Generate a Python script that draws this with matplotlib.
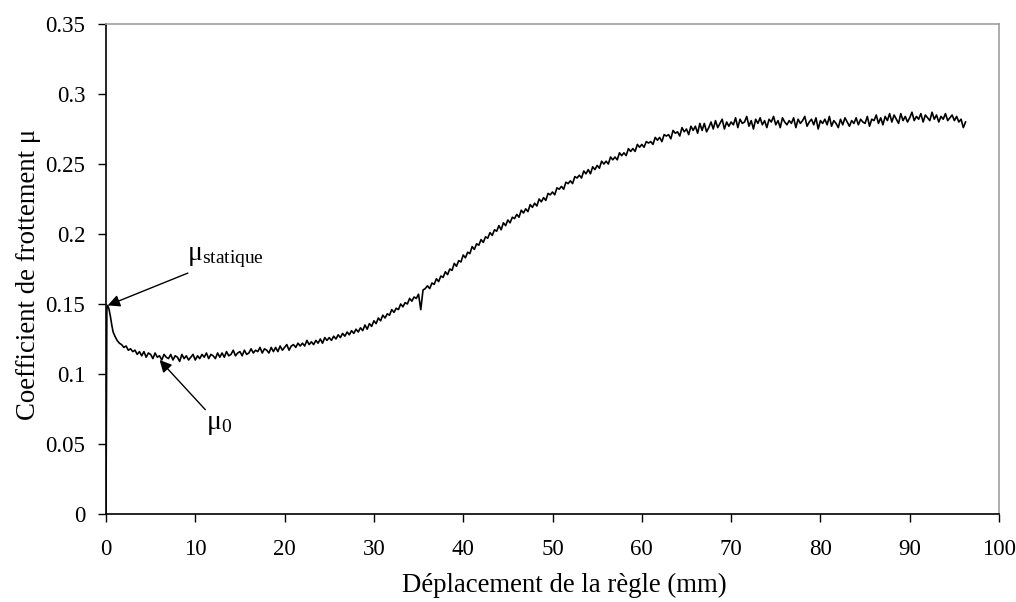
import numpy as np
import matplotlib
matplotlib.use("Agg")
from matplotlib import pyplot as plt

# ---- données ----
# début de l'essai (montée jusqu'au pic statique)
x_debut = [0.0, 0.1, 0.2, 0.35, 0.5, 0.65, 0.8]
mu_debut = [0.0, 0.147, 0.149, 0.146, 0.141, 0.135, 0.130]

# suite de l'essai, un point tous les 0.25 mm à partir de 1 mm
pas = 0.25
mu_suite = [
    0.127, 0.124, 0.122, 0.121,  # 1
    0.119, 0.120, 0.117, 0.118,
    0.116, 0.117, 0.114, 0.116,
    0.113, 0.116, 0.112, 0.115,
    0.114, 0.111, 0.115, 0.112,  # 5
    0.113, 0.110, 0.114, 0.112,
    0.111, 0.114, 0.110, 0.113,
    0.112, 0.109, 0.114, 0.111,
    0.113, 0.110, 0.112, 0.114,
    0.110, 0.113, 0.111, 0.114,  # 10
    0.112, 0.115, 0.111, 0.114,
    0.113, 0.111, 0.115, 0.112,
    0.115, 0.112, 0.116, 0.113,
    0.114, 0.117, 0.113, 0.115,
    0.116, 0.113, 0.117, 0.114,  # 15
    0.115, 0.118, 0.115, 0.117,
    0.116, 0.119, 0.115, 0.118,
    0.117, 0.115, 0.119, 0.116,
    0.119, 0.116, 0.120, 0.117,
    0.119, 0.121, 0.117, 0.120,  # 20
    0.121, 0.119, 0.122, 0.120,
    0.122, 0.120, 0.124, 0.121,
    0.123, 0.121, 0.124, 0.122,
    0.125, 0.122, 0.126, 0.124,
    0.126, 0.124, 0.127, 0.125,  # 25
    0.128, 0.126, 0.129, 0.127,
    0.130, 0.128, 0.131, 0.129,
    0.132, 0.130, 0.133, 0.131,
    0.135, 0.132, 0.136, 0.134,
    0.138, 0.136, 0.140, 0.138,  # 30
    0.142, 0.140, 0.143, 0.142,
    0.146, 0.144, 0.147, 0.146,
    0.150, 0.148, 0.151, 0.150,
    0.154, 0.152, 0.155, 0.154,
    0.157, 0.146, 0.160, 0.161,  # 35 (pic vers le bas)
    0.163, 0.161, 0.165, 0.164,
    0.168, 0.166, 0.170, 0.169,
    0.173, 0.171, 0.175, 0.174,
    0.179, 0.177, 0.181, 0.180,
    0.185, 0.183, 0.187, 0.186,  # 40
    0.191, 0.189, 0.193, 0.192,
    0.196, 0.194, 0.198, 0.197,
    0.201, 0.199, 0.203, 0.202,
    0.206, 0.203, 0.208, 0.206,
    0.210, 0.208, 0.212, 0.211,  # 45
    0.214, 0.212, 0.217, 0.215,
    0.218, 0.216, 0.221, 0.219,
    0.222, 0.220, 0.225, 0.223,
    0.226, 0.224, 0.229, 0.228,
    0.230, 0.228, 0.233, 0.232,  # 50
    0.234, 0.232, 0.237, 0.236,
    0.238, 0.236, 0.241, 0.240,
    0.242, 0.240, 0.245, 0.243,
    0.246, 0.243, 0.248, 0.246,
    0.249, 0.247, 0.252, 0.250,  # 55
    0.252, 0.250, 0.255, 0.253,
    0.255, 0.253, 0.258, 0.256,
    0.258, 0.256, 0.261, 0.259,
    0.261, 0.259, 0.264, 0.262,
    0.264, 0.262, 0.266, 0.265,  # 60
    0.266, 0.264, 0.269, 0.267,
    0.269, 0.266, 0.271, 0.270,
    0.271, 0.268, 0.274, 0.272,
    0.273, 0.270, 0.276, 0.273,
    0.275, 0.271, 0.277, 0.274,  # 65
    0.277, 0.272, 0.279, 0.274,
    0.279, 0.273, 0.276, 0.280,
    0.275, 0.281, 0.276, 0.279,
    0.282, 0.275, 0.280, 0.277,
    0.280, 0.278, 0.283, 0.276,  # 70
    0.282, 0.279, 0.280, 0.284,
    0.277, 0.281, 0.275, 0.282,
    0.279, 0.283, 0.278, 0.281,
    0.276, 0.282, 0.280, 0.284,
    0.278, 0.281, 0.276, 0.283,  # 75
    0.280, 0.278, 0.281, 0.279,
    0.283, 0.276, 0.282, 0.279,
    0.281, 0.284, 0.277, 0.280,
    0.282, 0.278, 0.283, 0.275,
    0.281, 0.279, 0.282, 0.278,  # 80
    0.284, 0.277, 0.281, 0.279,
    0.276, 0.282, 0.278, 0.283,
    0.280, 0.277, 0.281, 0.279,
    0.283, 0.278, 0.282, 0.280,
    0.279, 0.284, 0.277, 0.282,  # 85
    0.281, 0.285, 0.279, 0.283,
    0.278, 0.284, 0.281, 0.286,
    0.280, 0.285, 0.282, 0.279,
    0.286, 0.281, 0.284, 0.280,
    0.283, 0.287, 0.281, 0.284,  # 90
    0.282, 0.286, 0.280, 0.285,
    0.283, 0.281, 0.287, 0.282,
    0.285, 0.280, 0.284, 0.282,
    0.286, 0.281, 0.283, 0.285,
    0.281, 0.284, 0.280, 0.282,  # 95
    0.276, 0.280,
]

x_ticks = [0, 10, 20, 30, 40, 50, 60, 70, 80, 90, 100]
y_ticks = [0, 0.05, 0.1, 0.15, 0.2, 0.25, 0.3, 0.35]
y_tick_labels = ['0', '0.05', '0.1', '0.15', '0.2', '0.25', '0.3', '0.35']

# repères des annotations (pointe de la flèche, position du texte)
pt_statique = (0.2, 0.149)
txt_statique = (9.1, 0.183)
pt_mu0 = (6.0, 0.110)
txt_mu0 = (12.7, 0.0636)

x_suite = 1.0 + pas * np.arange(len(mu_suite))
x = np.concatenate([x_debut, x_suite])
mu = np.concatenate([mu_debut, mu_suite])

plt.rcParams['font.family'] = ['Liberation Serif', 'DejaVu Serif']
plt.rcParams['mathtext.fontset'] = 'custom'
plt.rcParams['mathtext.rm'] = 'Liberation Serif'

fig = plt.figure(figsize=(10.16, 6.02), dpi=100)
ax = fig.add_axes([0.1043, 0.1462, 0.879, 0.8139])

ax.plot(x, mu, color='black', lw=1.2)

ax.set_xlim(0, 100)
ax.set_ylim(0, 0.35)
ax.set_xticks(x_ticks)
ax.set_yticks(y_ticks)
ax.set_yticklabels(y_tick_labels)
ax.tick_params(direction='out', length=6, width=1, labelsize=16.5)
ax.tick_params(axis='x', pad=12)
ax.tick_params(axis='y', pad=9)

for s in ['top', 'right']:
    ax.spines[s].set_color('#a0a0a0')
    ax.spines[s].set_linewidth(1.2)
for s in ['left', 'bottom']:
    ax.spines[s].set_color('black')
    ax.spines[s].set_linewidth(1.2)

ax.set_xlabel('Déplacement de la règle (mm)', fontsize=19.3, labelpad=9)
ax.set_ylabel('Coefficient de frottement μ', fontsize=19.3, labelpad=3)
ax.xaxis.label.set_x(0.513)  # titre un peu décalé à droite comme l'original
ax.yaxis.label.set_y(0.488)

fleche = dict(arrowstyle='-|>', color='black', lw=1, mutation_scale=18,
              shrinkA=0, shrinkB=0)
ax.annotate(r'$\mathregular{μ_{statique}}$', xy=pt_statique, xytext=txt_statique,
            fontsize=20, ha='left', va='center', arrowprops=fleche)
ax.annotate(r'$\mathregular{μ_{0}}$', xy=pt_mu0, xytext=txt_mu0,
            fontsize=20, ha='center', va='center', arrowprops=fleche)

fig.savefig('out.png', dpi=100)
